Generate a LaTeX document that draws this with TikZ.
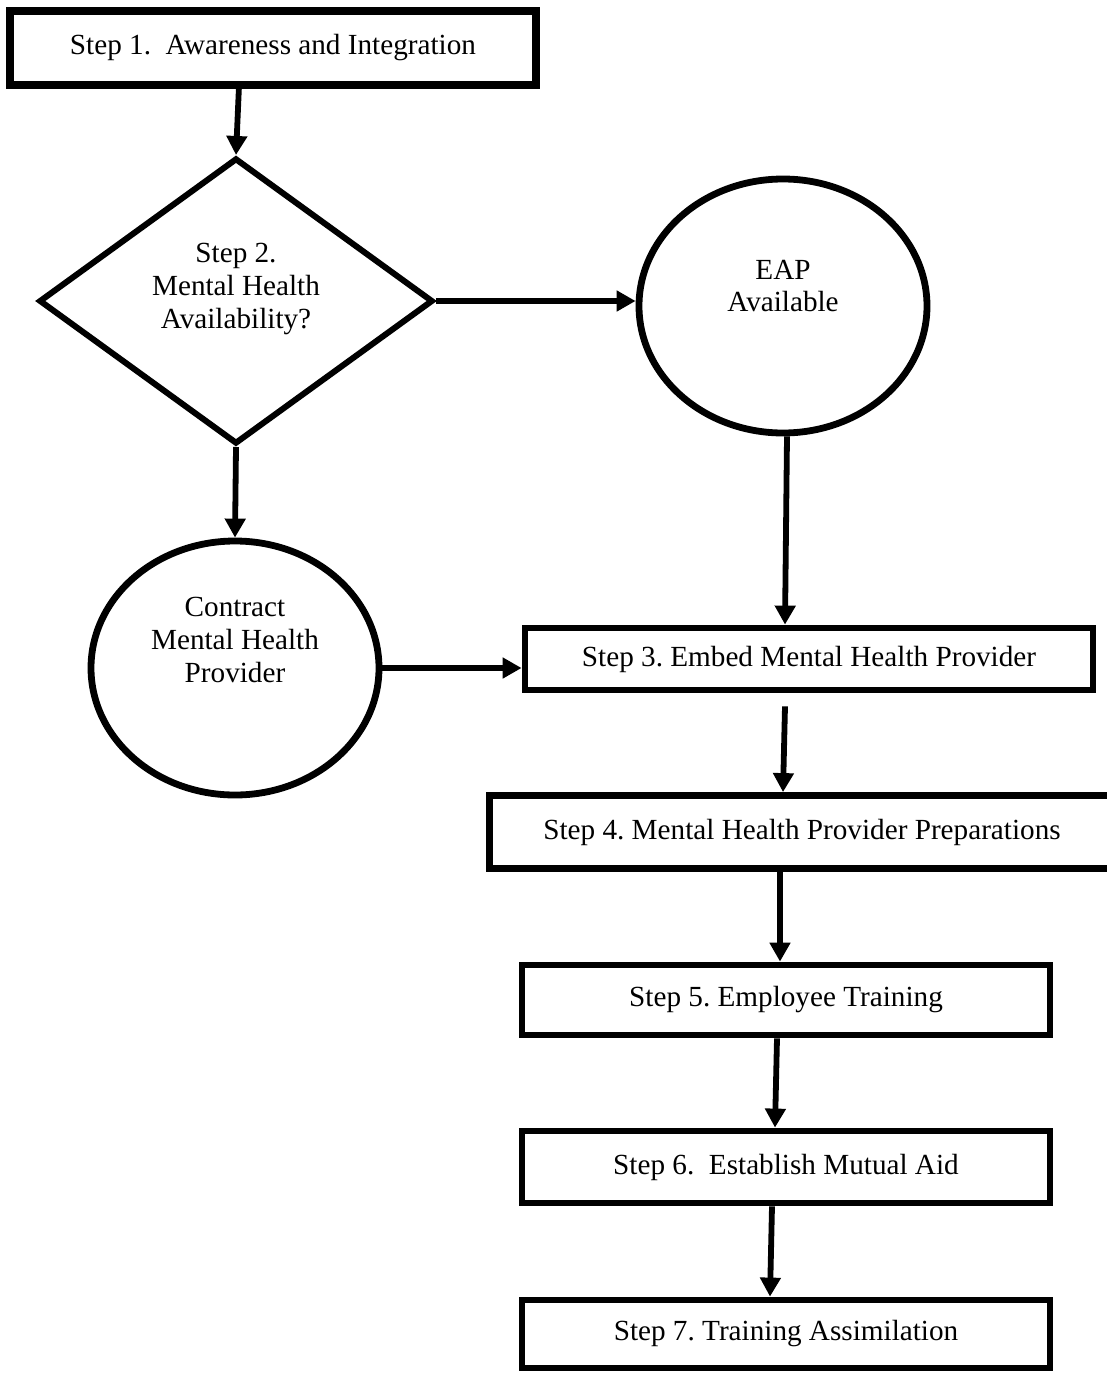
\documentclass[tikz,border=0pt]{standalone}
\usepackage{fontspec}
\setmainfont{Liberation Serif}
\usetikzlibrary{shapes.geometric}
\usetikzlibrary{arrows.meta}
\frenchspacing

\begin{document}
\begin{tikzpicture}[
  x=0.5pt, y=-0.5pt,
  every node/.style={font=\fontsize{14.6pt}{16.5pt}\selectfont},
  stepbox/.style={rectangle,draw,line width=3.4pt,inner sep=0pt},
  decision/.style={diamond,draw,line width=3pt,inner sep=0pt,minimum width=197pt,minimum height=143pt},
  oval/.style={ellipse,draw,line width=3.4pt,inner sep=0pt,minimum width=144pt,minimum height=127pt},
  inside/.style={align=center,inner sep=0pt},
  link/.style={line width=2.9pt,-{Triangle[length=9.5pt,width=10pt]}}]
\useasboundingbox (0,0) rectangle (1107,1376);
\node[stepbox,line width=3.8pt,minimum width=263pt,minimum height=37pt] (s1) at (273,48) {Step 1.\ \ Awareness and Integration};
\node[decision,label={[inside,yshift=6pt]center:Step 2.\\Mental Health\\Availability?}] (dec) at (236,301) {};
\node[oval,label={[inside,yshift=10pt]center:EAP\\Available}] (eap) at (783,306) {};
\node[oval,label={[inside,yshift=14pt]center:Contract\\Mental Health\\Provider}] (ctr) at (235,668) {};
\node[stepbox,minimum width=284pt,minimum height=31pt] (s3) at (809,659) {Step 3. Embed Mental Health Provider};
\node[stepbox,minimum width=312.5pt,minimum height=36.5pt] (s4) at (802,832) {Step 4. Mental Health Provider Preparations};
\node[stepbox,minimum width=264pt,minimum height=35pt] (s5) at (786,1000) {Step 5. Employee Training};
\node[stepbox,minimum width=264pt,minimum height=36pt] (s6) at (786,1167) {Step 6.\ \ Establish Mutual Aid};
\node[stepbox,minimum width=264pt,minimum height=34pt] (s7) at (786,1334) {Step 7. Training Assimilation};

\draw[link] ([xshift=1.5pt,yshift=1.5pt]dec.north |- s1.south) -- (dec.north);
\draw[link] (dec.east) -- (dec.east -| eap.west);
\draw[link] (dec.south) -- (ctr.north);
\draw[link] ([xshift=2pt]eap.south) -- ([xshift=1pt]eap.south |- s3.north);
\draw[link] (ctr.east) -- (ctr.east -| s3.west);
\draw[link] ([xshift=-12pt,yshift=-6.5pt]s3.south) -- ([xshift=-9.5pt]s4.north);
\draw[link] ([xshift=-11pt]s4.south) -- ([xshift=-3pt]s5.north);
\draw[link] ([xshift=-4.5pt]s5.south) -- ([xshift=-5.5pt]s6.north);
\draw[link] ([xshift=-7pt]s6.south) -- ([xshift=-8pt]s7.north);
\end{tikzpicture}
\end{document}
